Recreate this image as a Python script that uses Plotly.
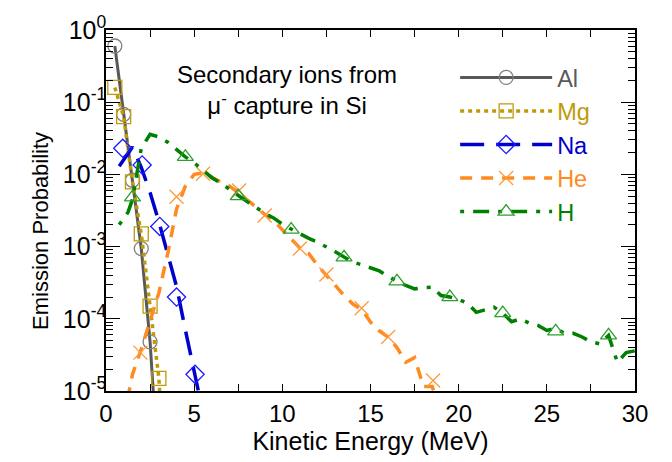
import plotly.graph_objects as go

# ---------------- data (Kinetic energy in MeV, emission probability) ----------------
al_x = [0.5, 1.0, 1.5, 2.0, 2.5, 3.0]
al_y = [0.6, 0.068, 0.0083, 9.4e-4, 4.8e-5, 6e-7]

mg_x = [0.5, 1.0, 1.5, 2.0, 2.5, 3.0, 3.5]
mg_y = [0.16, 0.063, 0.0079, 1.5e-3, 1.5e-4, 1.5e-5, 1e-7]

na_x = [0.75, 1.0, 1.5, 2.0, 2.5, 3.0, 3.5, 4.0, 4.5, 5.0, 5.5]
na_y = [0.013, 0.016, 0.024, 0.0125, 5.6e-3, 2.2e-3, 7.6e-4, 2.8e-4, 7.0e-5, 1.9e-5, 5e-6]
na_mx = [0.95, 2.05, 3.05, 4.0, 5.05]
na_my = [0.023, 0.0135, 1.9e-3, 2.0e-4, 1.7e-5]

he_x = [1.0, 1.5, 2.0, 2.5, 3.0, 3.5, 4.0, 4.5, 5.0, 5.5, 6.0, 6.5, 7.0, 7.5, 8.0,
        8.5, 9.0, 9.5, 10.0, 10.5, 11.0, 11.5, 12.0, 12.5, 13.0, 13.5, 14.0, 14.5,
        15.0, 15.5, 16.0, 16.5, 17.0, 17.5, 18.0, 18.5, 19.0, 19.5, 20.0, 20.5]
he_y = [4e-6, 1.7e-5, 3.8e-5, 9.5e-5, 2.3e-4, 8e-4, 3.3e-3, 6.9e-3, 1.0e-2, 1.05e-2,
        9.2e-3, 7.8e-3, 6.9e-3, 5.6e-3, 4.4e-3, 3.5e-3, 2.8e-3, 2.3e-3, 1.7e-3, 1.3e-3,
        9.5e-4, 8.0e-4, 5.5e-4, 4.0e-4, 2.9e-4, 2.1e-4, 1.6e-4, 1.35e-4, 9.0e-5, 6.8e-5,
        5.6e-5, 4.0e-5, 2.5e-5, 2.9e-5, 1.15e-5, 1.15e-5, 5e-6, 4e-6, 1.03e-5, 1e-7]
he_mx = [1.95, 4.0, 5.5, 7.55, 9.0, 11.0, 12.5, 14.5, 16.0, 18.55]
he_my = [3.4e-5, 4.9e-3, 1.02e-2, 6.0e-3, 2.7e-3, 9.4e-4, 4.1e-4, 1.4e-4, 5.6e-5, 1.4e-5]

h_x = [0.75, 1.0, 1.25, 1.5, 2.0, 2.5, 3.0, 3.5, 4.0, 4.5, 5.0, 5.5, 6.0, 6.5, 7.0,
       7.5, 8.0, 8.5, 9.0, 9.5, 10.0, 10.5, 11.0, 11.5, 12.0, 12.5, 13.0, 13.5, 14.0,
       14.5, 15.0, 15.5, 16.0, 16.5, 17.0, 17.5, 18.0, 18.5, 19.0, 19.5, 20.0, 20.5,
       21.0, 21.5, 22.0, 22.5, 23.0, 23.5, 24.0, 24.5, 25.0, 25.5, 26.0, 26.5, 27.0,
       27.5, 28.0, 28.5, 29.0, 29.5, 30.0]
h_y = [2.0e-3, 2.5e-3, 3.0e-3, 4.5e-3, 2.3e-2, 3.6e-2, 3.3e-2, 2.8e-2, 2.2e-2, 1.75e-2,
       1.45e-2, 1.15e-2, 9.0e-3, 7.6e-3, 6.2e-3, 5.0e-3, 4.2e-3, 3.5e-3, 2.9e-3, 2.5e-3,
       2.05e-3, 1.75e-3, 1.5e-3, 1.3e-3, 1.15e-3, 1.0e-3, 8.5e-4, 7.2e-4, 6.1e-4, 5.6e-4,
       5.0e-4, 4.6e-4, 3.9e-4, 3.3e-4, 2.9e-4, 2.6e-4, 2.7e-4, 2.75e-4, 2.1e-4, 2.0e-4,
       1.85e-4, 1.65e-4, 1.23e-4, 1.35e-4, 1.45e-4, 1.2e-4, 9.1e-5, 1.0e-4, 8.7e-5, 8.1e-5,
       6.9e-5, 7.4e-5, 6.3e-5, 6.3e-5, 5.6e-5, 4.8e-5, 4.5e-5, 5.9e-5, 2.5e-5, 3.4e-5, 3.6e-5]
h_mx = [1.5, 4.5, 7.5, 10.5, 13.5, 16.5, 19.5, 22.5, 25.5, 28.5]
h_my = [4.8e-3, 1.75e-2, 5.0e-3, 1.72e-3, 7.1e-4, 3.3e-4, 2.0e-4, 1.2e-4, 6.7e-5, 5.9e-5]

y_tickvals = [1, 0.1, 0.01, 0.001, 1e-4, 1e-5]
y_ticktext = ["10<sup>0</sup>", "10<sup>-1</sup>", "10<sup>-2</sup>",
              "10<sup>-3</sup>", "10<sup>-4</sup>", "10<sup>-5</sup>"]

# ---------------- styles ----------------
FONT = "Liberation Sans, Arial, sans-serif"
styles = {
    "Al": dict(color="#595959", mcolor="#808080", dash="solid", symbol="circle-open"),
    "Mg": dict(color="#BF9B0A", mcolor="#BF9B0A", dash="4px,4px", symbol="square-open"),
    "Na": dict(color="#0000CC", mcolor="#1a1aff", dash="24px,12px", symbol="diamond-open"),
    "He": dict(color="#FF8A1F", mcolor="#FF9A3C", dash="12px,9px", symbol="x-thin-open"),
    "H": dict(color="#008000", mcolor="#2E9E2E", dash="4px,9px,16px,9px", symbol="triangle-up-open"),
}

fig = go.Figure()

def add_series(name, lx, ly, mx=None, my=None):
    s = styles[name]
    lw = 3 if name == "Al" else 3.5
    mk = dict(symbol=s["symbol"], size=14, color=s["mcolor"],
              line=dict(width=1.3, color=s["mcolor"]))
    if mx is None:
        fig.add_trace(go.Scatter(x=lx, y=ly, mode="lines+markers", showlegend=False,
                                 line=dict(color=s["color"], width=lw, dash=s["dash"]),
                                 marker=mk))
    else:
        fig.add_trace(go.Scatter(x=lx, y=ly, mode="lines", showlegend=False,
                                 line=dict(color=s["color"], width=lw, dash=s["dash"])))
        fig.add_trace(go.Scatter(x=mx, y=my, mode="markers", showlegend=False, marker=mk))
    fig.add_trace(go.Scatter(x=[None], y=[None], mode="lines+markers",
                             name=f"<span style='color:{s['color']}'>{name}</span>",
                             line=dict(color=s["color"], width=lw, dash=s["dash"]),
                             marker=mk))

add_series("Al", al_x, al_y)
add_series("Mg", mg_x, mg_y)
add_series("Na", na_x, na_y, na_mx, na_my)
add_series("He", he_x, he_y, he_mx, he_my)
add_series("H", h_x, h_y, h_mx, h_my)

fig.add_annotation(text="Secondary ions from<br>\u03bc<sup>-</sup> capture in Si",
                   xref="paper", yref="paper", x=0.342, y=0.834, xanchor="center",
                   yanchor="middle", showarrow=False,
                   font=dict(family=FONT, size=24, color="black"), align="center")

# y-axis title placed as rotated text (positioned like the reference)
fig.add_annotation(text="Emission Probability", xref="paper", yref="paper",
                   x=-0.125, y=0.443, xanchor="center", yanchor="middle",
                   textangle=-90, showarrow=False,
                   font=dict(family=FONT, size=22, color="black"))

axis_common = dict(showline=True, linecolor="black", linewidth=1.6, mirror="ticks",
                   ticks="inside", tickcolor="black", showgrid=False, zeroline=False)

fig.update_xaxes(range=[0, 30], dtick=5, tick0=0, ticklen=7, tickwidth=1.3,
                 tickfont=dict(family=FONT, size=24, color="black"),
                 minor=dict(dtick=2.5, ticklen=7, tickwidth=1.3, ticks="inside", tickcolor="black"),
                 title=dict(text="Kinetic Energy (MeV)", font=dict(family=FONT, size=25, color="black"),
                            standoff=6),
                 **axis_common)
fig.update_yaxes(type="log", range=[-5, 0], tickmode="array", tickvals=y_tickvals,
                 ticktext=y_ticktext, ticklen=14, tickwidth=1.3, ticklabelstandoff=-7,
                 tickfont=dict(family=FONT, size=25, color="black"),
                 minor=dict(dtick="D1", ticklen=7, tickwidth=1.3, ticks="inside", tickcolor="black"),
                 **axis_common)

fig.update_layout(
    width=672, height=462,
    margin=dict(l=106, r=37, t=24, b=70),
    plot_bgcolor="white", paper_bgcolor="white",
    font=dict(family=FONT, size=22, color="black"),
    legend=dict(x=0.66, y=0.929, xanchor="left", yanchor="top", bgcolor="rgba(0,0,0,0)",
                font=dict(family=FONT, size=23.5), itemwidth=92, tracegroupgap=0),
)

fig.write_html("out.html")
